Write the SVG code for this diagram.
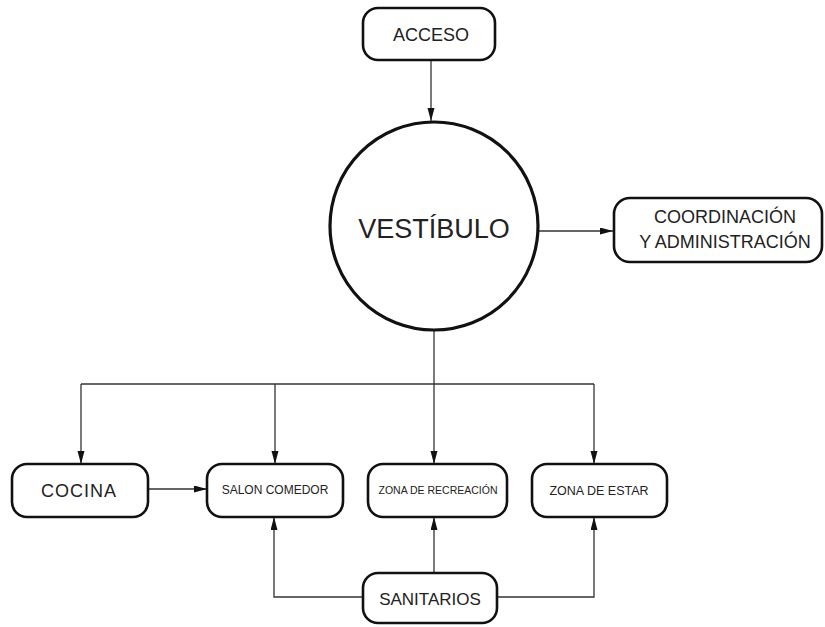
<svg xmlns="http://www.w3.org/2000/svg" width="825" height="627" viewBox="0 0 825 627">
<style>
.box{fill:#fff;stroke:#111;stroke-width:2.6}
.circ{fill:#fff;stroke:#111;stroke-width:3.2}
.t{font-family:"Liberation Sans",Arial,sans-serif;fill:#222;text-anchor:middle}
.c{fill:none;stroke:#333;stroke-width:1.3}
.a{marker-end:url(#ah)}
</style>
<defs>
<marker id="ah" markerUnits="userSpaceOnUse" markerWidth="14" markerHeight="8" refX="13" refY="3.5" orient="auto">
<path d="M0,0 L13,3.5 L0,7 Z" fill="#111"/>
</marker>
</defs>
<rect width="825" height="627" fill="#fff"/>
<g id="connectors">
<line class="c a" x1="431" y1="60" x2="431" y2="121"/>
<line class="c a" x1="538" y1="231" x2="613" y2="231"/>
<polyline class="c" points="434,330 434,384"/>
<line class="c" x1="81" y1="384" x2="594" y2="384"/>
<line class="c a" x1="81" y1="384" x2="81" y2="464"/>
<line class="c a" x1="275" y1="384" x2="275" y2="464"/>
<line class="c a" x1="434" y1="384" x2="434" y2="464"/>
<line class="c a" x1="594" y1="384" x2="594" y2="464"/>
<line class="c a" x1="148" y1="489" x2="207" y2="489"/>
<polyline class="c a" points="363,597 274,597 274,517"/>
<polyline class="c a" points="497,597 594,597 594,517"/>
<line class="c a" x1="434" y1="573" x2="434" y2="517"/>
</g>
<g id="acceso">
<rect class="box" x="363" y="8" width="132" height="52" rx="15"/>
<text class="t" x="431" y="41" font-size="18">ACCESO</text>
</g>
<g id="vestibulo">
<circle class="circ" cx="434" cy="226" r="104"/>
<text class="t" x="434" y="238" font-size="27">VESTÍBULO</text>
</g>
<g id="coordinacion">
<rect class="box" x="614" y="198" width="208" height="64" rx="16"/>
<text class="t" x="725" y="223" font-size="18">COORDINACIÓN</text>
<text class="t" x="725" y="248" font-size="18">Y ADMINISTRACIÓN</text>
</g>
<g id="cocina">
<rect class="box" x="12" y="464" width="136" height="53" rx="15"/>
<text class="t" x="79" y="497" font-size="18" letter-spacing="1">COCINA</text>
</g>
<g id="salon">
<rect class="box" x="207" y="464" width="136" height="53" rx="15"/>
<text class="t" x="275" y="494" font-size="12">SALON COMEDOR</text>
</g>
<g id="recreacion">
<rect class="box" x="368" y="464" width="139" height="53" rx="15"/>
<text class="t" x="438" y="494" font-size="10.5">ZONA DE RECREACIÓN</text>
</g>
<g id="estar">
<rect class="box" x="532" y="464" width="135" height="53" rx="15"/>
<text class="t" x="599" y="495" font-size="12.5">ZONA DE ESTAR</text>
</g>
<g id="sanitarios">
<rect class="box" x="363" y="573" width="134" height="50" rx="15"/>
<text class="t" x="430" y="605" font-size="17">SANITARIOS</text>
</g>
</svg>
